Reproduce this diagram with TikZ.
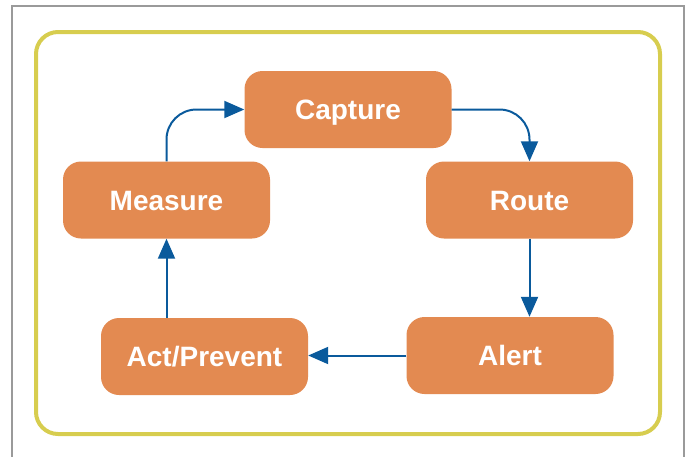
\documentclass[tikz,border=0pt]{standalone}
\usepackage{fontspec}
\setmainfont{Liberation Sans}
\usetikzlibrary{arrows.meta}
\definecolor{stepfill}{HTML}{E38A51}
\definecolor{flowblue}{HTML}{0A5A9C}
\definecolor{frameyellow}{HTML}{D7CD4F}
\definecolor{framegray}{HTML}{9A9A9A}
\tikzset{
  stepbox/.style={fill=stepfill, rounded corners=18pt, minimum width=207pt,
    minimum height=77pt, inner sep=0pt, text=white,
    text height=20pt, text depth=0pt,
    font=\fontsize{28}{32}\selectfont\bfseries},
  flow/.style={draw=flowblue, line width=2pt, rounded corners=30pt,
    -{Triangle[length=20pt,width=17pt]}},
}
\begin{document}
\begin{tikzpicture}[x=1pt,y=-1pt]
  \useasboundingbox (0,0) rectangle (689,456);
  \clip (0,0) rectangle (689,456);
  % outer frame
  \draw[framegray, line width=2pt] (12,6) rectangle (684,480);
  % inner rounded frame
  \draw[frameyellow, line width=4pt, rounded corners=22pt] (36,32) rectangle (660,434);
  % process steps
  \node[stepbox] (capture) at (348,109.5) {Capture};
  \node[stepbox] (route)   at (529.5,200) {Route};
  \node[stepbox] (alert)   at (510,355.5) {Alert};
  \node[stepbox] (act)     at (204.5,356.5) {Act/Prevent};
  \node[stepbox] (measure) at (166.5,200) {Measure};
  % cycle connectors
  \coordinate (alertin) at (route.south |- alert.north);
  \coordinate (actin) at (act.east |- alert.west);
  \draw[flow] (measure.north) |- (capture.west);
  \draw[flow] (capture.east) -| (route.north);
  \draw[flow] (route.south) -- (alertin);
  \draw[flow] (alert.west) -- (actin);
  \draw[flow] (act.north -| measure.south) -- (measure.south);
\end{tikzpicture}
\end{document}
